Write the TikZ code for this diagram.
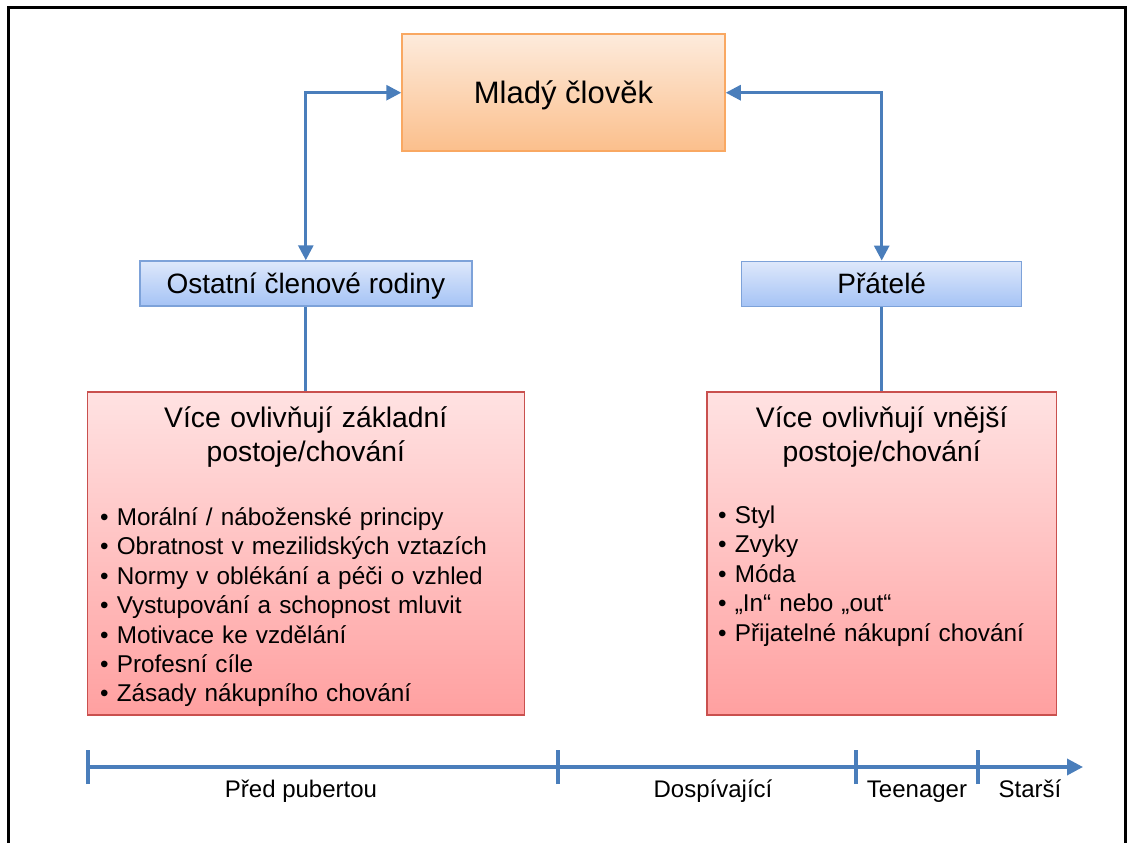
\documentclass[tikz,border=0pt]{standalone}
\usepackage{fontspec}
\setmainfont{Liberation Sans}
\usetikzlibrary{arrows.meta}
\definecolor{arrowblue}{HTML}{4A7EBB}
\definecolor{orTop}{HTML}{FDEBDC}
\definecolor{orBot}{HTML}{FBBF8C}
\definecolor{orLine}{HTML}{F9A862}
\definecolor{blTop}{HTML}{DEE8FB}
\definecolor{blBot}{HTML}{A5C3F5}
\definecolor{blLine}{HTML}{7DA2D9}
\definecolor{rdTop}{HTML}{FFE2E2}
\definecolor{rdBot}{HTML}{FFA0A0}
\definecolor{rdLine}{HTML}{C9504E}
\tikzset{
  youngbox/.style={draw=orLine, line width=1.5pt, top color=orTop, bottom color=orBot,
    minimum width=323pt, minimum height=117pt, inner sep=0pt,
    text height=22.2pt, text depth=0pt,
    font=\fontsize{31}{37}\selectfont},
  bluebox/.style={draw=blLine, line width=1.5pt, top color=blTop, bottom color=blBot,
    minimum height=45pt, inner sep=0pt, text height=20pt, text depth=0pt,
    font=\fontsize{28}{34}\selectfont},
  redbox/.style={draw=rdLine, line width=1.5pt, top color=rdTop, bottom color=rdBot,
    minimum height=323pt, inner sep=0pt},
  headtext/.style={anchor=base, inner sep=0pt, text width=420pt, align=center,
    font=\fontsize{28.3}{34}\selectfont},
  bullettext/.style={anchor=base west, inner sep=0pt, text width=420pt, align=left,
    font=\fontsize{24.3}{29.4}\selectfont},
  conn/.style={draw=arrowblue, line width=3pt,
    {Triangle[length=15pt,width=15pt]}-{Triangle[length=15pt,width=15pt]}},
  plainconn/.style={draw=arrowblue, line width=3pt},
  timeline/.style={draw=arrowblue, line width=3.5pt, -{Triangle[length=16pt,width=16pt]}},
  tick/.style={draw=arrowblue, line width=3.5pt},
  tllabel/.style={anchor=base, inner sep=0pt, font=\fontsize{24}{29}\selectfont},
}
\begin{document}
\begin{tikzpicture}[x=1pt,y=-1pt]
\useasboundingbox (0,0) rectangle (1127,843);
% frame
\draw[line width=3pt] (8,843) -- (8,7.5) -- (1125.5,7.5) -- (1125.5,843);

% main nodes
\node[youngbox] (young) at (563.5,92.7) {Mladý člověk};
\node[bluebox, minimum width=332pt] (fam) at (305.8,283.5) {Ostatní členové rodiny};
\node[bluebox, minimum width=280pt] (fr) at (881.7,283.8) {Přátelé};
\node[redbox, minimum width=437pt] (redL) at (305.8,553.7) {};
\node[redbox, minimum width=349.4pt] (redR) at (881.7,553.7) {};

% texts in red boxes
\node[headtext] (headL) at (305.8,427.5) {Více ovlivňují základní\\postoje/chování};
\node[headtext] (headR) at (881.7,427.5) {Více ovlivňují vnější\\postoje/chování};
\node[bullettext] (listL) at (100,525.5) {• Morální / náboženské principy\\
• Obratnost v mezilidských vztazích\\
• Normy v oblékání a péči o vzhled\\
• Vystupování a schopnost mluvit\\
• Motivace ke vzdělání\\
• Profesní cíle\\
• Zásady nákupního chování};
\node[bullettext] (listR) at (718,523.5) {• Styl\\
• Zvyky\\
• Móda\\
• „In“ nebo „out“\\
• Přijatelné nákupní chování};

% connectors
\draw[conn] (fam.north) |- (young.west);
\draw[conn] (fr.north) |- (young.east);
\draw[plainconn] (fam.south) -- (redL.north);
\draw[plainconn] (fr.south) -- (redR.north);

% timeline
\coordinate (t0) at (88,767);
\coordinate (t1) at (558,767);
\coordinate (t2) at (856,767);
\coordinate (t3) at (978,767);
\coordinate (tend) at (1083,767);
\draw[timeline] (t0) -- (tend);
\foreach \t in {t0,t1,t2,t3}{
  \draw[tick] ([yshift=-17pt]\t) -- ([yshift=17pt]\t);
}
\node[tllabel] (l0) at (301,797) {Před pubertou};
\node[tllabel] (l1) at (713,797) {Dospívající};
\node[tllabel] (l2) at (917,797) {Teenager};
\node[tllabel] (l3) at (1030,797) {Starší};
\end{tikzpicture}
\end{document}
